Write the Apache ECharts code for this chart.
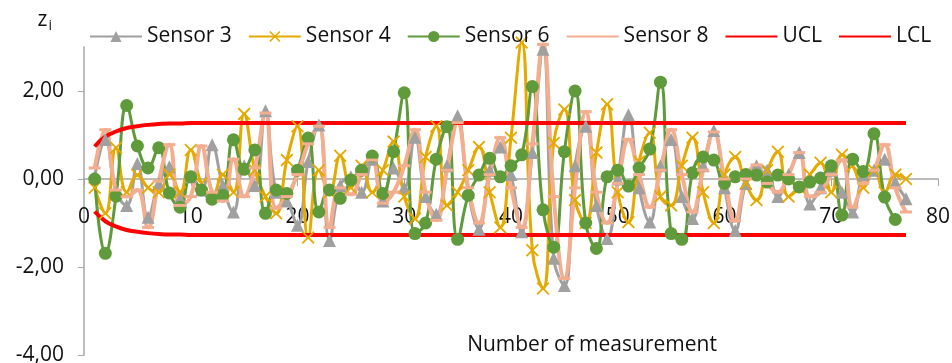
<!DOCTYPE html>
<html>
<head>
<meta charset="utf-8">
<script src="https://cdn.jsdelivr.net/npm/echarts@6/dist/echarts.min.js"></script>
<style>
  html, body { margin: 0; padding: 0; background: #fff; }
  #chart { width: 952px; height: 363px; }
</style>
</head>
<body>
<div id="chart"></div>
<script>
const sensor3 = [0.05, 0.90, -0.30, -0.60, 0.35, -0.87, -0.10, 0.28, -0.45, 0.05,
  -0.25, 0.78, -0.15, -0.75, 0.30, -0.15, 1.55, -0.30, -0.50, -1.05,
  0.40, 1.23, -1.40, -0.15, 0.05, -0.30, 0.45, -0.50, 0.25, -0.20,
  0.95, -0.40, -0.80, 0.30, 1.44, -0.30, -1.14, 0.20, 0.73, 0.10,
  -1.20, 0.60, 2.95, -1.80, -2.42, 0.30, 1.20, -0.60, -1.35, 0.00,
  1.46, -0.20, -0.98, 0.30, 0.90, -0.40, -0.90, 0.30, 1.10, -0.20,
  -1.17, -0.10, 0.30, 0.20, -0.40, 0.10, 0.60, -0.57, -0.20, 0.20,
  -0.30, -0.75, 0.10, 0.20, 0.45, -0.07, -0.45];
const sensor4 = [-0.20, -0.78, 0.71, -0.30, 0.09, -0.20, -0.30, 0.10, -0.30, 0.66,
  -0.10, -0.40, 0.10, -0.30, 1.48, 0.20, -0.40, -0.78, 0.43, 1.20,
  -1.33, 0.20, -0.30, 0.53, -0.20, 0.30, -0.30, 0.20, 0.85, -0.40,
  -0.90, 0.50, 1.20, -0.60, -0.30, 0.20, 0.73, -0.30, -1.10, 0.94,
  3.10, -1.62, -2.49, 0.82, 1.58, -0.48, -1.00, 0.60, 1.70, -0.30,
  -0.98, 0.40, 1.05, -0.40, -0.60, 0.30, 0.94, -0.30, -1.00, 0.10,
  0.50, -0.10, -0.48, 0.20, 0.62, -0.40, -0.20, 0.10, 0.37, -0.30,
  0.55, 0.30, -0.20, 0.20, -0.30, 0.10, 0.00];
const sensor6 = [0.00, -1.69, -0.39, 1.67, 0.75, 0.25, 0.71, -0.32, -0.64, 0.05,
  -0.25, -0.46, -0.37, 0.89, 0.22, 0.66, -0.78, -0.25, -0.33, 0.20,
  0.93, -0.75, -0.25, -0.44, -0.02, 0.20, 0.52, -0.33, 0.62, 1.96,
  -1.24, -1.00, 0.45, 1.19, -1.37, -0.37, 0.09, 0.47, 0.05, 0.30,
  0.55, 2.10, -0.70, -1.55, 0.62, 2.00, -1.00, -1.58, 0.05, 0.20,
  -0.16, 0.25, 0.68, 2.20, -1.24, -1.37, 0.14, 0.50, 0.43, -0.10,
  0.05, 0.10, 0.09, -0.07, 0.09, 0.00, -0.18, -0.07, 0.02, 0.30,
  -0.82, 0.45, 0.17, 1.03, -0.41, -0.92];
const sensor8 = [0.25, 1.12, -0.25, -0.40, -0.25, -1.10, -0.05, 0.78, -0.60, -0.40,
  0.75, -0.30, -0.50, 0.45, -0.40, 0.25, 1.50, -0.66, -0.40, 0.10,
  0.80, 1.20, -1.10, -0.20, -0.35, 0.10, 0.43, -0.55, -0.30, 0.30,
  1.12, -0.30, -0.94, 0.20, 1.28, -0.20, -1.00, 0.10, 0.94, -0.20,
  -1.10, 0.80, 3.06, -0.40, -2.26, -0.20, 1.53, -0.30, -1.00, -0.10,
  0.90, 0.10, -0.64, 0.20, 1.12, 0.10, -0.75, 0.20, 1.07, 0.00,
  -0.95, 0.00, 0.32, -0.10, -0.30, 0.10, 0.60, -0.40, -0.30, 0.10,
  0.43, -0.64, -0.10, 0.20, 0.78, -0.20, -0.75];
const ucl = [0.74, 0.96, 1.08, 1.16, 1.20, 1.23, 1.25, 1.26, 1.26, 1.27,
  1.27, 1.27, 1.27, 1.27, 1.27, 1.27, 1.27, 1.27, 1.27, 1.27,
  1.27, 1.27, 1.27, 1.27, 1.27, 1.27, 1.27, 1.27, 1.27, 1.27,
  1.27, 1.27, 1.27, 1.27, 1.27, 1.27, 1.27, 1.27, 1.27, 1.27,
  1.27, 1.27, 1.27, 1.27, 1.27, 1.27, 1.27, 1.27, 1.27, 1.27,
  1.27, 1.27, 1.27, 1.27, 1.27, 1.27, 1.27, 1.27, 1.27, 1.27,
  1.27, 1.27, 1.27, 1.27, 1.27, 1.27, 1.27, 1.27, 1.27, 1.27,
  1.27, 1.27, 1.27, 1.27, 1.27, 1.27, 1.27];
const lcl = [-0.74, -0.96, -1.08, -1.16, -1.20, -1.23, -1.25, -1.26, -1.26, -1.27,
  -1.27, -1.27, -1.27, -1.27, -1.27, -1.27, -1.27, -1.27, -1.27, -1.27,
  -1.27, -1.27, -1.27, -1.27, -1.27, -1.27, -1.27, -1.27, -1.27, -1.27,
  -1.27, -1.27, -1.27, -1.27, -1.27, -1.27, -1.27, -1.27, -1.27, -1.27,
  -1.27, -1.27, -1.27, -1.27, -1.27, -1.27, -1.27, -1.27, -1.27, -1.27,
  -1.27, -1.27, -1.27, -1.27, -1.27, -1.27, -1.27, -1.27, -1.27, -1.27,
  -1.27, -1.27, -1.27, -1.27, -1.27, -1.27, -1.27, -1.27, -1.27, -1.27,
  -1.27, -1.27, -1.27, -1.27, -1.27, -1.27, -1.27];
const yTicks = [-4, -2, 0, 2];

const FONT = 'Open Sans';
const CROSS = 'path://M0,1L1,0L5,4L9,0L10,1L6,5L10,9L9,10L5,6L1,10L0,9L4,5Z';

const pairs = (vals) => vals.map((v, i) => [i + 1, v]);

function sensorLine(name, vals, color, symbol, size, width) {
    return {
        name: name,
        type: 'line',
        data: pairs(vals),
        smooth: 0.45,
        clip: false,
        symbol: symbol,
        symbolSize: size,
        showSymbol: true,
        lineStyle: { color: color, width: width },
        itemStyle: { color: color },
        emphasis: { disabled: true }
    };
}

function limitLine(name, vals) {
    return {
        name: name,
        type: 'line',
        data: pairs(vals),
        smooth: 0.5,
        symbol: 'none',
        lineStyle: { color: '#FF0000', width: 4 },
        itemStyle: { color: '#FF0000' },
        emphasis: { disabled: true }
    };
}

const chart = echarts.init(document.getElementById('chart'));
chart.setOption({
    animation: false,
    grid: { left: 84, right: 14, top: 47, bottom: 8, containLabel: false, outerBoundsMode: 'none' },
    legend: {
        left: 84,
        top: 21,
        itemWidth: 52,
        itemHeight: 14,
        itemGap: 16,
        textStyle: { fontFamily: FONT, fontSize: 21, color: '#111' },
        data: [
            'Sensor 3', 'Sensor 4', 'Sensor 6',
            { name: 'Sensor 8', itemStyle: { opacity: 0 } },
            { name: 'UCL', itemStyle: { opacity: 0 } },
            { name: 'LCL', itemStyle: { opacity: 0 } }
        ]
    },
    xAxis: {
        type: 'value',
        min: 0,
        max: 80,
        interval: 10,
        offset: -176,
        splitLine: { show: false },
        axisLine: { onZero: false, lineStyle: { color: '#A6A6A6', width: 1.5 } },
        axisTick: { show: true, length: 7, lineStyle: { color: '#A6A6A6' } },
        axisLabel: { margin: 28, fontFamily: FONT, fontSize: 21, color: '#111' },
        name: 'Number of measurement',
        nameLocation: 'middle',
        nameGap: 156,
        nameTextStyle: { fontFamily: FONT, fontSize: 21, color: '#111', padding: [0, 0, 0, 162] }
    },
    yAxis: {
        type: 'value',
        min: -4,
        max: 3,
        interval: 2,
        splitLine: { show: false },
        axisLine: { show: true, lineStyle: { color: '#A6A6A6', width: 1.5 } },
        axisTick: { show: true, length: 6, customValues: yTicks, lineStyle: { color: '#A6A6A6' } },
        axisLabel: {
            margin: 20,
            customValues: yTicks,
            fontFamily: FONT,
            fontSize: 21,
            color: '#111',
            formatter: (v) => v.toFixed(2).replace('.', ',')
        },
        name: '{z|z}{i|i}',
        nameLocation: 'end',
        nameGap: 14,
        nameTextStyle: {
            align: 'right',
            padding: [0, 32, 0, 0],
            rich: {
                z: { fontFamily: FONT, fontSize: 21, color: '#111' },
                i: { fontFamily: FONT, fontSize: 14, color: '#111', padding: [12, 0, 0, 1] }
            }
        }
    },
    series: [
        sensorLine('Sensor 3', sensor3, '#A0A0A0', 'triangle', 13, 3),
        sensorLine('Sensor 4', sensor4, '#E5A900', CROSS, 13, 3),
        sensorLine('Sensor 6', sensor6, '#5F9B3A', 'circle', 13, 3),
        sensorLine('Sensor 8', sensor8, '#F3AE90', 'rect', [12, 3], 4),
        limitLine('UCL', ucl),
        limitLine('LCL', lcl)
    ]
});
</script>
</body>
</html>
